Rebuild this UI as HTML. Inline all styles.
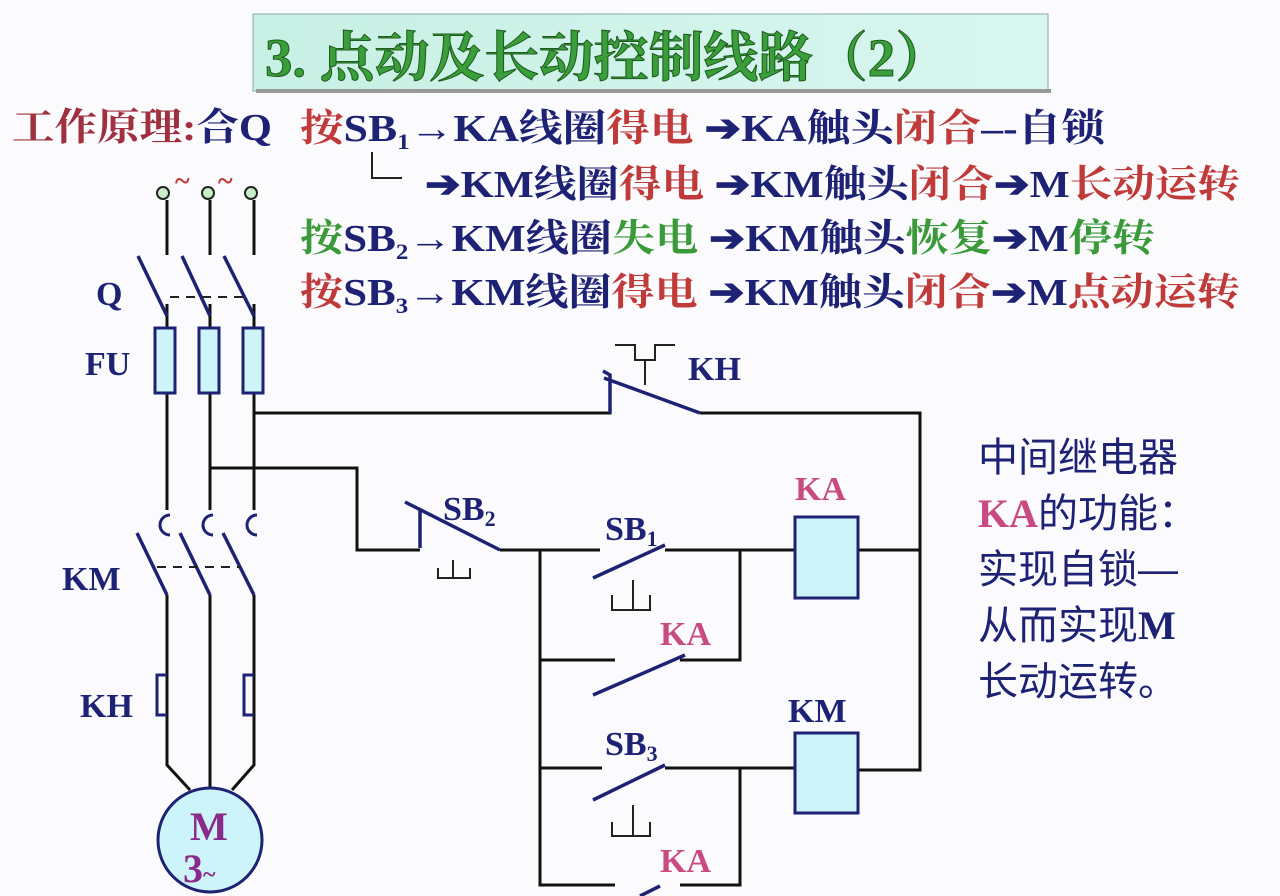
<!DOCTYPE html>
<html><head><meta charset="utf-8"><style>
body{margin:0;background:#fbfbfd;}
svg{display:block}
.t{font-family:"Liberation Serif","Noto Serif CJK SC",serif;font-weight:bold;}
.c{font-family:"Liberation Sans","Noto Sans CJK SC",sans-serif;}
</style></head><body>
<svg width="1280" height="896" viewBox="0 0 1280 896">
<defs><linearGradient id="g" x1="0" x2="1"><stop offset="0" stop-color="#c8f0e4"/><stop offset="1" stop-color="#d8f6f0"/></linearGradient></defs>
<rect x="253" y="14" width="795" height="77" fill="url(#g)" stroke="#8aa" stroke-width="1"/>
<rect x="256" y="89" width="795" height="4" fill="#999"/>
<text x="265" y="76" class="t" font-size="54" fill="#3a9e3a" stroke="#1d5a1d" stroke-width="1" textLength="685" lengthAdjust="spacingAndGlyphs">3. 点动及长动控制线路（2）</text>

<g class="t" font-size="38">
<text x="12" y="140" textLength="260" lengthAdjust="spacingAndGlyphs"><tspan fill="#a03040">工作原理:</tspan><tspan fill="#1d2275">合Q</tspan></text>
<text x="300" y="141" textLength="805" lengthAdjust="spacingAndGlyphs"><tspan fill="#c03a3a">按</tspan><tspan fill="#1d2275">SB</tspan><tspan fill="#1d2275" font-size="22" dy="8">1</tspan><tspan fill="#1d2275" dy="-8">→KA线圈</tspan><tspan fill="#c03a3a">得电</tspan><tspan fill="#1d2275"> ➔KA触头</tspan><tspan fill="#c03a3a">闭合</tspan><tspan fill="#1d2275">–-自锁</tspan></text>
<text x="425" y="197" textLength="815" lengthAdjust="spacingAndGlyphs"><tspan fill="#1d2275">➔KM线圈</tspan><tspan fill="#c03a3a">得电 </tspan><tspan fill="#1d2275"> ➔KM触头</tspan><tspan fill="#c03a3a">闭合</tspan><tspan fill="#1d2275">➔M</tspan><tspan fill="#c03a3a">长动运转</tspan></text>
<text x="300" y="251" textLength="855" lengthAdjust="spacingAndGlyphs"><tspan fill="#3a9a3a">按</tspan><tspan fill="#1d2275">SB</tspan><tspan fill="#1d2275" font-size="22" dy="8">2</tspan><tspan fill="#1d2275" dy="-8">→KM线圈</tspan><tspan fill="#3a9a3a">失电 </tspan><tspan fill="#1d2275"> ➔KM触头</tspan><tspan fill="#3a9a3a">恢复</tspan><tspan fill="#1d2275">➔M</tspan><tspan fill="#3a9a3a">停转</tspan></text>
<text x="300" y="305" textLength="940" lengthAdjust="spacingAndGlyphs"><tspan fill="#c03a3a">按</tspan><tspan fill="#1d2275">SB</tspan><tspan fill="#1d2275" font-size="22" dy="8">3</tspan><tspan fill="#1d2275" dy="-8">→KM线圈</tspan><tspan fill="#c03a3a">得电 </tspan><tspan fill="#1d2275"> ➔KM触头</tspan><tspan fill="#c03a3a">闭合</tspan><tspan fill="#1d2275">➔M</tspan><tspan fill="#c03a3a">点动运转</tspan></text>
</g>
<path d="M372 152 V178 H402" fill="none" stroke="#222" stroke-width="2"/>

<g fill="none" stroke="#111" stroke-width="3">
<path d="M167 200 V255 M210 200 V255 M254 200 V255"/>
<path d="M167 304 V510 M210 304 V510 M254 304 V510"/>
<path d="M254 413 H610 V398 M700 413 H920 V770 H858 M858 550 H920"/>
<path d="M210 468 H357 V550 H420"/>
<path d="M500 550 H600 M665 550 H795 M540 550 V885 H615 M540 660 H615 M680 660 H740 V550 M540 768 H602 M665 768 H795 M740 768 V885 H680"/>
<path d="M167 595 V765 L190 790 M210 595 V790 M254 595 V765 L232 790"/>
</g>
<g fill="#c7eec7" stroke="#222" stroke-width="2"><circle cx="163" cy="193" r="6"/><circle cx="208" cy="193" r="6"/><circle cx="251" cy="193" r="6"/></g>
<text x="175" y="190" fill="#c03a3a" font-size="28" class="t">~</text><text x="218" y="190" fill="#c03a3a" font-size="28" class="t">~</text>
<g stroke="#1d2275" stroke-width="3.5" fill="none">
<path d="M138 256 L167 316 M182 256 L210 316 M224 256 L254 316"/>
<path d="M137 533 L167 595 M180 533 L210 595 M223 533 L254 595"/>
<path d="M170 535 A10 10 0 0 1 170 515 M213 535 A10 10 0 0 1 213 515 M257 535 A10 10 0 0 1 257 515" stroke-width="3"/>
<path d="M167 675 H157 V715 H167 M254 675 H244 V715 H254" stroke-width="3"/>
<path d="M610 413 V375 L603 371 M604 378 L700 413"/>
<path d="M420 548 V510 M405 502 L500 550"/>
<path d="M593 578 L665 545 M593 695 L685 655 M593 800 L665 765 M640 896 L660 886"/>
</g>
<g stroke="#222" stroke-width="2" fill="none">
<path d="M615 345 H635 V360 H655 V345 H675 M645 360 V385" />
<path d="M438 568 V578 H470 V568 M453 560 V578"/>
<path d="M612 595 V610 H650 V595 M633 580 V610"/>
<path d="M612 822 V836 H650 V822 M633 805 V836"/>
<path d="M170 297 H250" stroke-dasharray="9 7"/>
<path d="M157 567 H240" stroke-dasharray="9 7"/>
</g>
<g fill="#cdf4f8" stroke="#1d2275" stroke-width="3">
<rect x="155" y="328" width="20" height="65"/><rect x="199" y="328" width="20" height="65"/><rect x="243" y="328" width="20" height="65"/>
<rect x="795" y="517" width="63" height="81"/><rect x="795" y="733" width="63" height="80"/>
<circle cx="210" cy="840" r="52"/>
</g>
<g class="t" font-size="34" fill="#1d2275">
<text x="96" y="305">Q</text><text x="85" y="375">FU</text><text x="62" y="590">KM</text><text x="80" y="717">KH</text>
<text x="688" y="380">KH</text><text x="443" y="520">SB<tspan font-size="22" dy="6">2</tspan></text>
<text x="605" y="540">SB<tspan font-size="22" dy="6">1</tspan></text><text x="605" y="755">SB<tspan font-size="22" dy="6">3</tspan></text>
<text x="788" y="722">KM</text>
</g>
<g class="t" font-size="34" fill="#c84a80">
<text x="795" y="500">KA</text><text x="660" y="645">KA</text><text x="660" y="872">KA</text>
</g>
<text x="190" y="840" class="t" font-size="40" fill="#8a2a8a">M</text>
<text x="183" y="882" class="t" font-size="40" fill="#8a2a8a">3<tspan font-size="24">~</tspan></text>
<g class="c" font-size="40" fill="#1d2275">
<text x="978" y="471">中间继电器</text>
<text x="978" y="527"><tspan fill="#c84a80" class="t">KA</tspan>的功能：</text>
<text x="978" y="583">实现自锁—</text>
<text x="978" y="639">从而实现<tspan class="t">M</tspan></text>
<text x="978" y="695">长动运转。</text>
</g>
</svg>
</body></html>
